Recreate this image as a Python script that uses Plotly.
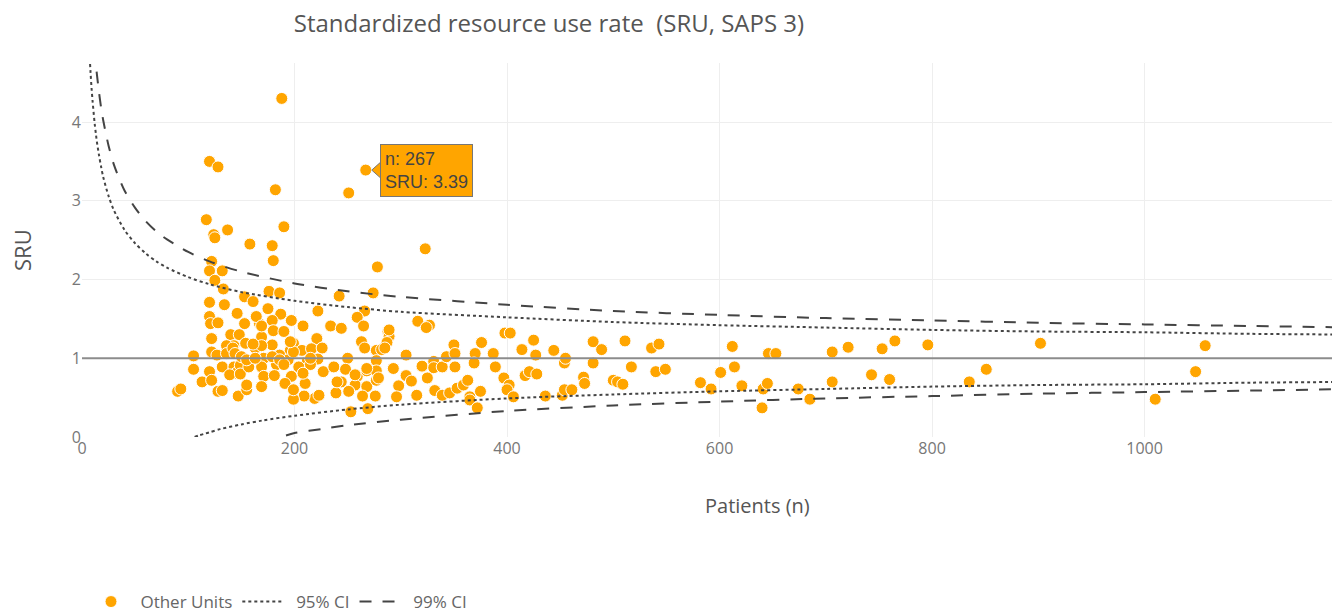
import plotly.graph_objects as go

# ---- data ----
patients_n = [
    188, 120, 128, 182, 267, 251, 117, 137, 124, 125, 190, 158, 179, 180, 122, 323, 278, 120, 132, 125,
    120, 134, 133, 120, 121, 128, 146, 122, 140, 143, 136, 122, 127, 136, 105, 105, 120, 132, 143, 113,
    122, 145, 139, 90, 93, 128, 132, 147, 149, 149, 142, 144, 155, 148,
    153, 161, 176, 186, 175, 187, 222, 242, 274, 266, 259, 265, 234, 244, 208, 197, 179, 167, 153, 164,
    180, 190, 169, 199, 221, 154, 163, 179, 196, 207, 216, 226, 263, 266, 277, 150, 171, 186, 194, 212,
    222, 250, 277, 157, 169, 183, 204, 215, 227, 237, 248, 259, 268, 277, 171, 181, 197, 210, 191, 155,
    169, 244, 257, 268, 239, 219, 209, 199, 264, 276, 253, 269, 277, 169, 169, 161, 155, 163, 179, 186,
    190, 199, 199, 196, 208, 215, 223, 240, 251, 257, 268,
    316, 327, 324, 288, 289, 287, 282, 305, 279, 293, 305, 310, 320, 331, 331, 339, 343, 350, 351, 351,
    325, 298, 296, 315, 332, 339, 346, 353, 359, 363, 365, 365, 372, 370, 369, 376, 375, 387, 389, 397,
    402, 400, 406, 398, 403, 414, 417, 421, 428, 425, 427, 436, 444, 452, 454, 454, 289, 285, 461, 455,
    472, 473, 481, 481, 489, 500, 504, 509, 511, 517, 536, 543, 540, 549, 582, 592, 601, 612, 614, 621,
    640, 641, 645, 646, 653, 674, 685, 706, 706, 721, 743, 753, 760, 765, 796, 835, 851, 902, 1010, 1048,
    1057,
]
sru_values = [
    4.30, 3.50, 3.43, 3.14, 3.39, 3.10, 2.76, 2.63, 2.57, 2.53, 2.67, 2.45, 2.43, 2.24, 2.23, 2.39, 2.16, 2.11, 2.11, 1.99,
    1.71, 1.68, 1.88, 1.53, 1.44, 1.45, 1.57, 1.25, 1.30, 1.16, 1.16, 1.08, 1.04, 1.06, 1.03, 0.86, 0.83, 0.89, 0.89, 0.70,
    0.72, 0.81, 0.79, 0.58, 0.61, 0.58, 0.59, 0.52, 0.91, 0.80, 1.13, 1.06, 0.60, 1.30,
    1.78, 1.72, 1.85, 1.83, 1.63, 1.56, 1.60, 1.79, 1.83, 1.60, 1.52, 1.41, 1.41, 1.38, 1.41, 1.48, 1.48, 1.44, 1.44, 1.53,
    1.35, 1.34, 1.27, 1.19, 1.25, 1.19, 1.13, 1.17, 1.10, 1.10, 1.12, 1.13, 1.21, 1.13, 1.10, 1.02, 1.00, 1.04, 0.98, 0.96,
    0.99, 1.00, 0.97, 0.89, 0.89, 0.92, 0.89, 0.92, 0.83, 0.89, 0.86, 0.77, 0.84, 0.84, 0.77, 0.78, 0.77, 0.68, 0.68, 0.66,
    0.64, 0.70, 0.66, 0.64, 0.56, 0.49, 0.52, 0.48, 0.52, 0.52, 0.32, 0.36, 0.72, 1.41, 1.16, 1.18, 0.98, 1.00, 1.02, 0.98,
    0.92, 0.60, 1.08, 1.21, 0.81, 1.00, 0.53, 0.70, 0.58, 0.79, 0.87,
    1.47, 1.42, 1.39, 1.34, 1.28, 1.20, 1.11, 1.04, 0.75, 0.87, 0.78, 0.71, 0.90, 0.96, 0.88, 0.89, 1.02, 1.17, 1.06, 0.89,
    0.75, 0.65, 0.51, 0.53, 0.59, 0.53, 0.56, 0.62, 0.66, 0.72, 0.51, 0.47, 0.37, 1.06, 0.94, 1.20, 0.58, 1.06, 0.89, 0.75,
    0.66, 0.60, 0.51, 1.32, 1.32, 1.11, 0.78, 0.83, 0.80, 1.23, 1.04, 0.52, 1.10, 0.53, 0.60, 0.94, 1.36, 1.13, 0.60, 1.00,
    0.76, 0.68, 1.21, 0.94, 1.11, 0.72, 0.70, 0.67, 1.22, 0.89, 1.13, 1.18, 0.83, 0.86, 0.69, 0.61, 0.82, 1.15, 0.89, 0.65,
    0.37, 0.61, 0.68, 1.06, 1.06, 0.61, 0.48, 1.08, 0.70, 1.14, 0.79, 1.12, 0.73, 1.22, 1.17, 0.70, 0.86, 1.19, 0.48, 0.83,
    1.16,
]

# confidence limits
ci_upper_n = [7, 8, 9, 10, 12, 13, 14, 16, 18, 20, 25, 30, 40, 50, 60, 70, 80, 100, 120, 150,
              200, 250, 300, 400, 500, 600, 700, 800, 900, 1000, 1100, 1200]
ci95_upper = [4.89, 4.64, 4.43, 4.26, 3.97, 3.86, 3.75, 3.58, 3.43, 3.30, 3.06, 2.88, 2.63, 2.46, 2.33, 2.23, 2.15, 2.03, 1.94, 1.84,
              1.73, 1.65, 1.59, 1.52, 1.46, 1.42, 1.39, 1.36, 1.34, 1.33, 1.31, 1.30]
ci99_upper = [6.10, 5.77, 5.50, 5.27, 4.90, 4.74, 4.61, 4.38, 4.18, 4.02, 3.70, 3.46, 3.13, 2.91, 2.74, 2.61, 2.51, 2.35, 2.23, 2.10,
              1.95, 1.85, 1.78, 1.68, 1.60, 1.55, 1.51, 1.48, 1.45, 1.43, 1.41, 1.39]
ci95_lower_n = [106, 110, 115, 120, 130, 150, 170, 200, 250, 300, 400, 500, 600, 700, 800, 900, 1000, 1100, 1200]
ci95_lower = [0.00, 0.02, 0.04, 0.06, 0.10, 0.16, 0.21, 0.27, 0.35, 0.41, 0.49, 0.54, 0.58, 0.61, 0.64, 0.66, 0.67, 0.69, 0.70]
ci99_lower_n = [192, 200, 225, 250, 300, 400, 500, 600, 700, 800, 900, 1000, 1100, 1200]
ci99_lower = [0.02, 0.05, 0.10, 0.15, 0.22, 0.33, 0.40, 0.45, 0.49, 0.52, 0.55, 0.57, 0.59, 0.61]

ref_n = [0, 1200]
ref_sru = [1, 1]

x_ticks = [0, 200, 400, 600, 800, 1000]
y_ticks = [0, 1, 2, 3, 4]

highlight_n = 267
highlight_sru = 3.39

ORANGE = "#FFA500"
FONT = "Open Sans"
NB = "\u00a0"

# the page body adds an 8 px margin, so the figure is 8 px smaller than the window
W, H = 1332, 608
L, R, T, B = 74, 2, 55, 179
PW, PH = W - L - R, H - T - B

fig = go.Figure()

fig.add_trace(go.Scatter(
    x=patients_n, y=sru_values, mode="markers", name=NB + "Other Units",
    marker=dict(color=ORANGE, size=12, line=dict(color="white", width=1)),
))
fig.add_trace(go.Scatter(
    x=ci_upper_n + [None] + ci95_lower_n, y=ci95_upper + [None] + ci95_lower,
    mode="lines", name=NB + NB + "95% CI",
    line=dict(color="#444", width=2, dash="dot", shape="spline", smoothing=0.8),
))
fig.add_trace(go.Scatter(
    x=ci_upper_n + [None] + ci99_lower_n, y=ci99_upper + [None] + ci99_lower,
    mode="lines", name=NB + NB + "99% CI",
    line=dict(color="#444", width=2, dash="12px,11px", shape="spline", smoothing=0.8),
))
fig.add_trace(go.Scatter(
    x=ref_n, y=ref_sru, mode="lines", showlegend=False, hoverinfo="skip",
    line=dict(color="#8c8c8c", width=2),
))

# tooltip pointer
fig.add_shape(
    type="path", xref="x", yref="y", xsizemode="pixel", ysizemode="pixel",
    xanchor=highlight_n, yanchor=highlight_sru,
    path="M 6,0 L 15,-8 L 15,8 Z", fillcolor=ORANGE, line=dict(color="#777", width=1),
)

fig.update_layout(
    width=W, height=H,
    margin=dict(l=L, r=R, t=T, b=B, autoexpand=False),
    paper_bgcolor="white", plot_bgcolor="white",
    font=dict(family=FONT, color="#666"),
    title=dict(text="Standardized resource use rate  (SRU, SAPS 3)", x=541 / W, xanchor="center",
               xref="container", yref="container",
               y=1 - 16 / H, yanchor="middle", font=dict(family=FONT, size=24, color="#555")),
    xaxis=dict(range=[0, 1182], tickvals=x_ticks, showgrid=True, gridcolor="#eeeeee", zeroline=False,
               showline=False, ticks="", tickfont=dict(size=16, color="#777")),
    yaxis=dict(range=[0, 4.75], tickvals=y_ticks, showgrid=True, gridcolor="#eeeeee", zeroline=False,
               showline=False, ticks="", tickfont=dict(size=16, color="#777")),
    legend=dict(orientation="h", x=4 / PW, xanchor="left", y=-165 / PH, yanchor="middle",
                font=dict(size=17, color="#666"), itemwidth=40, bgcolor="rgba(0,0,0,0)"),
    showlegend=True,
    annotations=[
        dict(text="Patients (n)", xref="paper", yref="paper", x=675 / PW, y=-68 / PH,
             xanchor="center", yanchor="middle", showarrow=False, font=dict(family=FONT, size=20, color="#555")),
        dict(text="SRU", xref="paper", yref="paper", x=-60 / PW, y=0.5, textangle=-90,
             xanchor="center", yanchor="middle", showarrow=False, font=dict(family=FONT, size=22, color="#555")),
        dict(text="n: 267<br>SRU: 3.39", xref="x", yref="y", x=highlight_n, y=highlight_sru,
             xanchor="left", yanchor="middle", xshift=14, showarrow=False, align="left",
             bgcolor=ORANGE, bordercolor="#777", borderwidth=1, borderpad=4,
             font=dict(family="Liberation Sans, Arial", size=18, color="#444")),
    ],
)

fig.write_html("out.html")
